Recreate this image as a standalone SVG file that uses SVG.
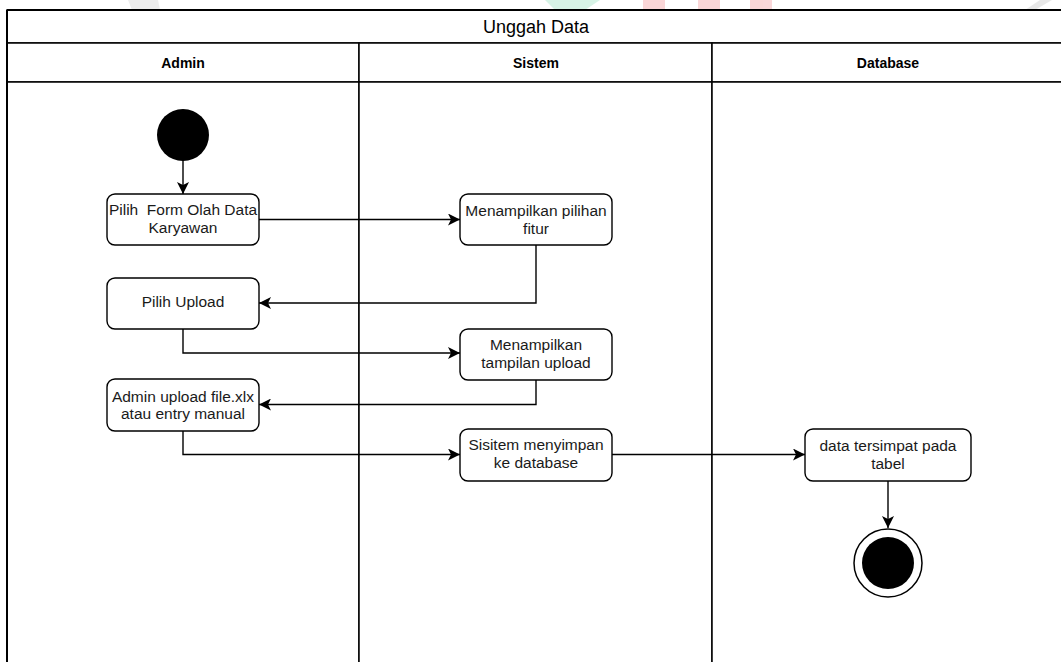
<svg xmlns="http://www.w3.org/2000/svg" width="1061" height="662" viewBox="0 0 1061 662">
  <style>
    .lane { fill: #ffffff; stroke: #000000; stroke-width: 1.5; }
    .frame { fill: none; stroke: #000000; stroke-width: 2; }
    .act { fill: #ffffff; stroke: #000000; stroke-width: 1.4; }
    .flow { fill: none; stroke: #000000; stroke-width: 1.4; marker-end: url(#arrow); }
    .label { font-family: "Liberation Sans", Arial, sans-serif; font-size: 15.5px; fill: #1a1a1a; text-anchor: middle; }
    .head { font-family: "Liberation Sans", Arial, sans-serif; font-size: 14px; font-weight: bold; fill: #000000; text-anchor: middle; }
    .title { font-family: "Liberation Sans", Arial, sans-serif; font-size: 18px; fill: #000000; text-anchor: middle; }
    .mark { opacity: 0.18; }
  </style>
  <defs>
    <marker id="arrow" markerUnits="userSpaceOnUse" markerWidth="14" markerHeight="12" refX="12" refY="6" orient="auto">
      <path d="M0,0 L12,6 L0,12 L3,6 z" fill="#000000"/>
    </marker>
  </defs>

  <rect width="1061" height="662" fill="#ffffff"/>

  <!-- faint background marks along the top edge -->
  <g id="backdrop" class="mark">
    <path d="M128,0 L132,10 L160,10 L158,0 Z" fill="#9a9a9a"/>
    <path d="M545,0 L600,0 L585,10 L555,10 Z" fill="#29c27a"/>
    <rect x="643" y="0" width="22" height="10" fill="#e5202a"/>
    <rect x="698" y="0" width="22" height="10" fill="#e5202a"/>
    <rect x="750" y="0" width="22" height="10" fill="#e5202a"/>
    <path d="M1025,10 L1040,0 L1052,0 L1035,10 Z" fill="#808080"/>
  </g>

  <!-- pool with title and lanes -->
  <g id="pool">
    <rect class="lane" x="7" y="10" width="1060" height="33"/>
    <text class="title" x="536" y="33">Unggah Data</text>
    <rect class="lane" x="7" y="43" width="352" height="39"/>
    <rect class="lane" x="359" y="43" width="353" height="39"/>
    <rect class="lane" x="712" y="43" width="355" height="39"/>
    <text class="head" x="183" y="68">Admin</text>
    <text class="head" x="536" y="68">Sistem</text>
    <text class="head" x="888" y="68">Database</text>
    <rect class="lane" x="7" y="82" width="352" height="600"/>
    <rect class="lane" x="359" y="82" width="353" height="600"/>
    <rect class="lane" x="712" y="82" width="355" height="600"/>
    <line class="frame" x1="7" y1="10" x2="7" y2="662"/>
    <line class="frame" x1="7" y1="10" x2="1061" y2="10"/>
  </g>

  <!-- control flow -->
  <g id="connectors">
    <path class="flow" d="M183,160 L183,194"/>
    <path class="flow" d="M259,219.5 L460,219.5"/>
    <path class="flow" d="M536,245 L536,303 L259,303"/>
    <path class="flow" d="M183,329 L183,353 L460,353"/>
    <path class="flow" d="M536,380 L536,404.5 L259,404.5"/>
    <path class="flow" d="M183,431 L183,454.5 L460,454.5"/>
    <path class="flow" d="M612,454.5 L805,454.5"/>
    <path class="flow" d="M888,481 L888,528"/>
  </g>

  <g id="start">
    <circle cx="183" cy="135" r="26" fill="#000000"/>
  </g>

  <g id="pilih-form">
    <rect class="act" x="107" y="194" width="152" height="51" rx="8"/>
    <text class="label" x="183" y="215" xml:space="preserve">Pilih  Form Olah Data</text>
    <text class="label" x="183" y="233">Karyawan</text>
  </g>

  <g id="tampil-fitur">
    <rect class="act" x="460" y="194" width="152" height="51" rx="8"/>
    <text class="label" x="536" y="216">Menampilkan pilihan</text>
    <text class="label" x="536" y="234">fitur</text>
  </g>

  <g id="pilih-upload">
    <rect class="act" x="107" y="278" width="152" height="51" rx="8"/>
    <text class="label" x="183" y="307">Pilih Upload</text>
  </g>

  <g id="tampil-upload">
    <rect class="act" x="460" y="329" width="152" height="51" rx="8"/>
    <text class="label" x="536" y="350">Menampilkan</text>
    <text class="label" x="536" y="368">tampilan upload</text>
  </g>

  <g id="admin-upload">
    <rect class="act" x="107" y="379" width="152" height="52" rx="8"/>
    <text class="label" x="183" y="402">Admin upload file.xlx</text>
    <text class="label" x="183" y="419">atau entry manual</text>
  </g>

  <g id="simpan">
    <rect class="act" x="460" y="429" width="152" height="52" rx="8"/>
    <text class="label" x="536" y="450">Sisitem menyimpan</text>
    <text class="label" x="536" y="468">ke database</text>
  </g>

  <g id="tersimpan">
    <rect class="act" x="805" y="429" width="166" height="52" rx="8"/>
    <text class="label" x="888" y="451">data tersimpat pada</text>
    <text class="label" x="888" y="469">tabel</text>
  </g>

  <g id="end">
    <circle cx="888" cy="563" r="34" fill="#ffffff" stroke="#000000" stroke-width="1.5"/>
    <circle cx="888" cy="563" r="26" fill="#000000"/>
  </g>
</svg>
